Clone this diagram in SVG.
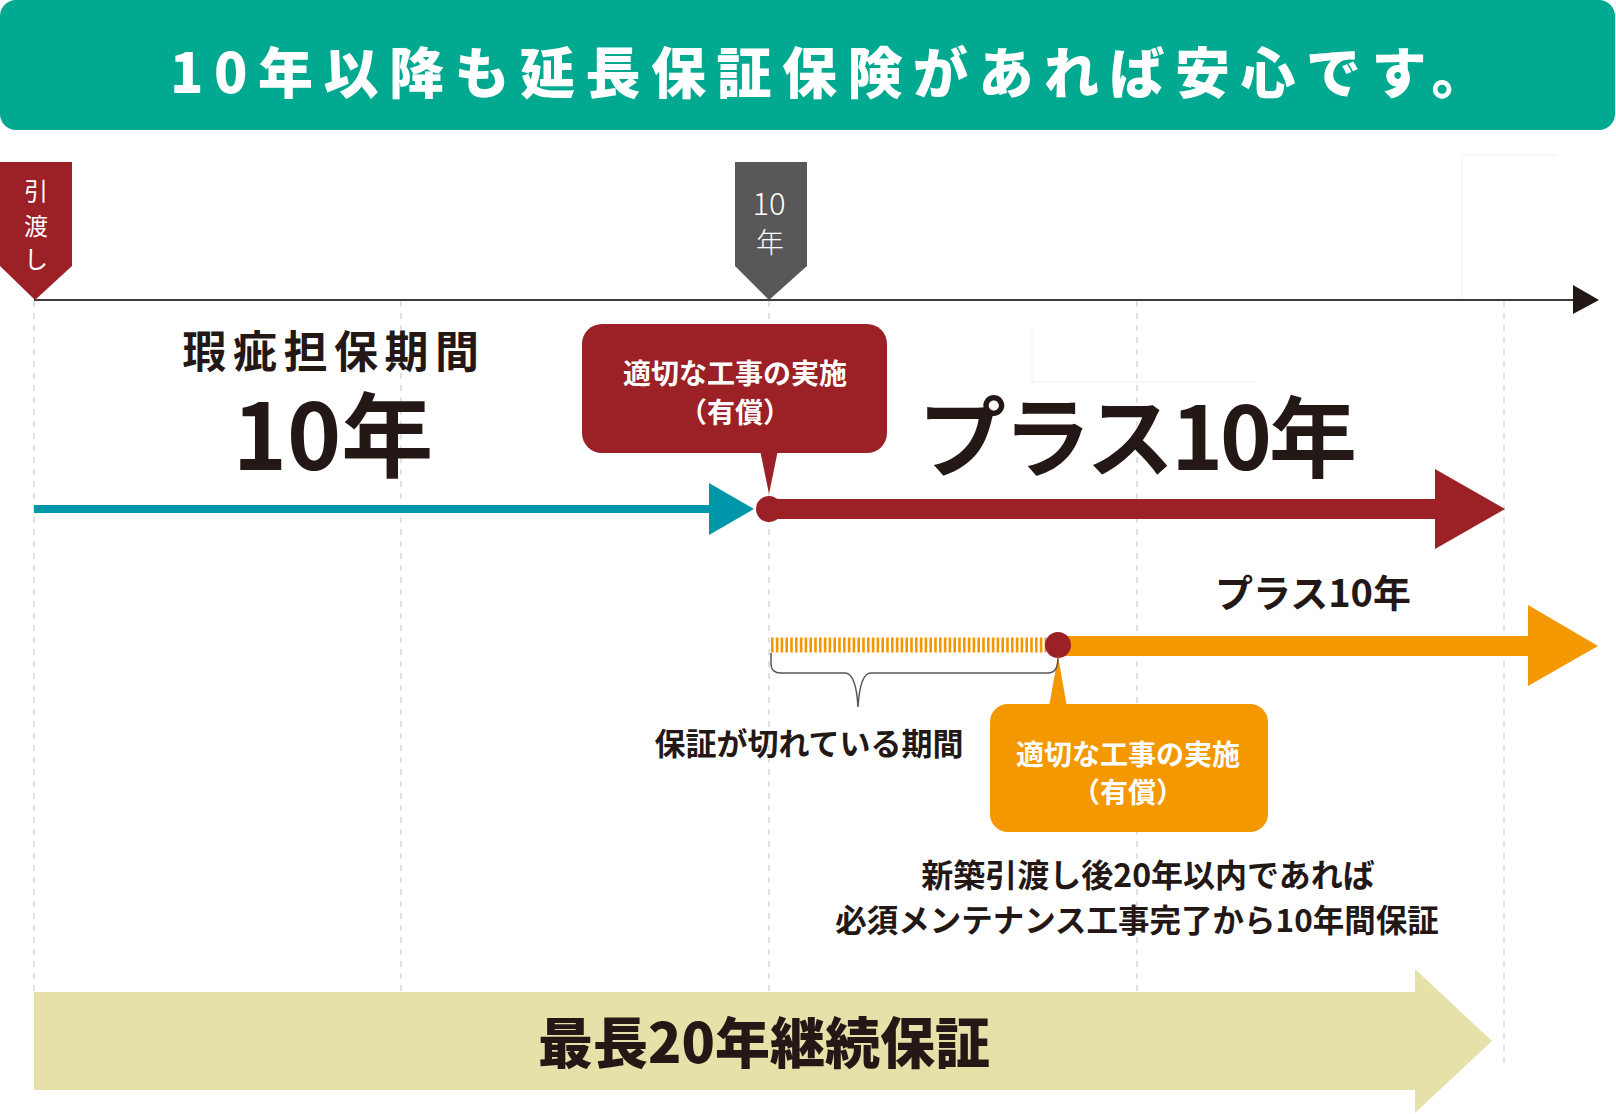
<svg xmlns="http://www.w3.org/2000/svg" width="1616" height="1114" viewBox="0 0 1616 1114">
<style>
.t{font-family:"Noto Sans CJK JP","Noto Sans CJK SC",sans-serif;}
.b{font-weight:700;}
.h{font-weight:900;}
.w{fill:#ffffff;}
.k{fill:#231815;}
.grid{stroke:#c4c4c4;stroke-width:1;stroke-dasharray:6 6;fill:none;}
.faint{stroke:#f0f0f0;stroke-width:1;fill:none;}
</style>
<rect width="1616" height="1114" fill="#ffffff"/>

<g id="header">
<rect x="0" y="0" width="1615" height="130" rx="16" fill="#00a98f"/>
<text class="t h w" x="170" y="93" font-size="55" letter-spacing="10.5">10年以降も延長保証保険があれば安心です。</text>
</g>

<g id="gridlines">
<line class="grid" x1="34" y1="301" x2="34" y2="992"/>
<line class="grid" x1="401" y1="301" x2="401" y2="992"/>
<line class="grid" x1="769" y1="301" x2="769" y2="992"/>
<line class="grid" x1="1137" y1="301" x2="1137" y2="992"/>
<line class="grid" x1="1504" y1="301" x2="1504" y2="1066"/>
<path class="faint" d="M1462,299 V155 H1556"/>
<path class="faint" d="M1032,326 V382 H1254"/>
</g>

<g id="connectors">
<line x1="34" y1="300" x2="1576" y2="300" stroke="#3e3a39" stroke-width="2"/>
<polygon points="1573,285 1599,300 1573,314" fill="#231815"/>
<rect x="34" y="505" width="678" height="8" fill="#0096a9"/>
<polygon points="709,483 754,509 709,535" fill="#0096a9"/>
<rect x="769" y="499" width="668" height="20" fill="#9b2126"/>
<polygon points="1435,469 1505,509 1435,549" fill="#9b2126"/>
<circle cx="769" cy="509" r="13" fill="#9b2126"/>
<polygon points="760,450 778,450 769,494" fill="#9b2126"/>
<line x1="771" y1="645" x2="1046" y2="645" stroke="#f39800" stroke-width="15" stroke-dasharray="2.6 2.2"/>
<rect x="1058" y="636" width="472" height="20" fill="#f39800"/>
<polygon points="1528,605 1598,646 1528,686" fill="#f39800"/>
<circle cx="1058" cy="645" r="13" fill="#9b2126"/>
<polygon points="1049,707 1067,707 1058,656" fill="#f39800"/>
<path d="M771,653 V664 Q771,673 781,673 H845 Q856,673 858,707 Q860,673 871,673 H1048 Q1058,673 1058,658" fill="none" stroke="#595757" stroke-width="1.5"/>
<polygon points="34,992 1415,992 1415,969 1492,1041 1415,1113 1415,1090 34,1090" fill="#e6e0a9"/>
</g>

<g id="marker-handover">
<polygon points="0,162 72,162 72,266 35,300 0,266" fill="#9b2126"/>
<text class="t w" x="36" y="200" font-size="24" text-anchor="middle">引</text>
<text class="t w" x="36" y="235" font-size="24" text-anchor="middle">渡</text>
<text class="t w" x="36" y="268" font-size="24" text-anchor="middle">し</text>
</g>

<g id="marker-10y">
<polygon points="735,162 807,162 807,266 769,300 735,266" fill="#595757"/>
<text class="t w" x="769" y="215" font-size="31" text-anchor="middle" font-weight="300">10</text>
<text class="t w" x="770" y="253" font-size="28" text-anchor="middle" font-weight="300">年</text>
</g>

<g id="label-defect">
<text class="t b k" x="334" y="368" font-size="44" text-anchor="middle" letter-spacing="6.5">瑕疵担保期間</text>
<text class="t b k" x="333" y="470" font-size="92" text-anchor="middle">10年</text>
</g>

<g id="callout-red">
<rect x="582" y="324" width="305" height="129" rx="20" fill="#9b2126"/>
<text class="t b w" x="735" y="384" font-size="28" text-anchor="middle">適切な工事の実施</text>
<text class="t b w" x="735" y="423" font-size="28" text-anchor="middle">（有償）</text>
</g>

<g id="label-plus10-big">
<text class="t b k" x="1136" y="470" font-size="88" text-anchor="middle" letter-spacing="-3">プラス10年</text>
</g>

<g id="label-plus10-small">
<text class="t b k" x="1313" y="607" font-size="38" text-anchor="middle">プラス10年</text>
</g>

<g id="label-gap">
<text class="t b k" x="809" y="755" font-size="31" text-anchor="middle">保証が切れている期間</text>
</g>

<g id="callout-orange">
<rect x="990" y="704" width="278" height="128" rx="18" fill="#f39800"/>
<text class="t b w" x="1128" y="765" font-size="28" text-anchor="middle">適切な工事の実施</text>
<text class="t b w" x="1128" y="803" font-size="28" text-anchor="middle">（有償）</text>
</g>

<g id="label-note">
<text class="t b k" x="1148" y="887" font-size="32" text-anchor="middle">新築引渡し後20年以内であれば</text>
<text class="t b k" x="1137" y="932" font-size="31.5" text-anchor="middle">必須メンテナンス工事完了から10年間保証</text>
</g>

<g id="label-total">
<text class="t h k" x="764" y="1063" font-size="55" text-anchor="middle">最長20年継続保証</text>
</g>
</svg>
